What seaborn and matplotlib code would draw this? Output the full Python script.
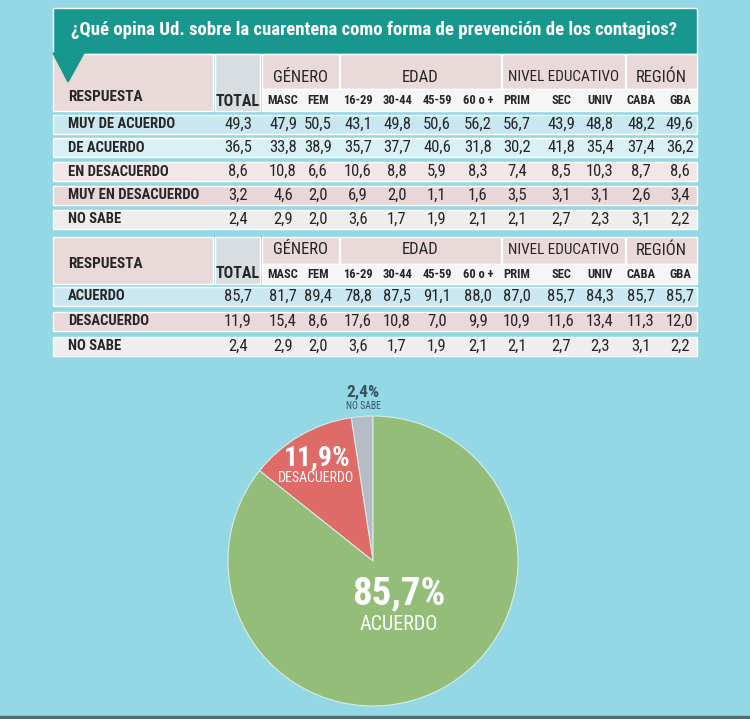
import numpy as np
import pandas as pd
import seaborn as sns
import matplotlib.pyplot as plt
from matplotlib import font_manager

# ------------------------------------------------------------
# Datos
# ------------------------------------------------------------
titulo = "¿Qué opina Ud. sobre la cuarentena como forma de prevención de los contagios?"

grupos = ["GÉNERO", "EDAD", "NIVEL EDUCATIVO", "REGIÓN"]
subcols = ["MASC", "FEM", "16-29", "30-44", "45-59", "60 o +",
           "PRIM", "SEC", "UNIV", "CABA", "GBA"]

resp1 = ["MUY DE ACUERDO", "DE ACUERDO", "EN DESACUERDO", "MUY EN DESACUERDO", "NO SABE"]
total1 = [49.3, 36.5, 8.6, 3.2, 2.4]
masc1 = [47.9, 33.8, 10.8, 4.6, 2.9]
fem1 = [50.5, 38.9, 6.6, 2.0, 2.0]
e1629_1 = [43.1, 35.7, 10.6, 6.9, 3.6]
e3044_1 = [49.8, 37.7, 8.8, 2.0, 1.7]
e4559_1 = [50.6, 40.6, 5.9, 1.1, 1.9]
e60_1 = [56.2, 31.8, 8.3, 1.6, 2.1]
prim1 = [56.7, 30.2, 7.4, 3.5, 2.1]
sec1 = [43.9, 41.8, 8.5, 3.1, 2.7]
univ1 = [48.8, 35.4, 10.3, 3.1, 2.3]
caba1 = [48.2, 37.4, 8.7, 2.6, 3.1]
gba1 = [49.6, 36.2, 8.6, 3.4, 2.2]

resp2 = ["ACUERDO", "DESACUERDO", "NO SABE"]
total2 = [85.7, 11.9, 2.4]
masc2 = [81.7, 15.4, 2.9]
fem2 = [89.4, 8.6, 2.0]
e1629_2 = [78.8, 17.6, 3.6]
e3044_2 = [87.5, 10.8, 1.7]
e4559_2 = [91.1, 7.0, 1.9]
e60_2 = [88.0, 9.9, 2.1]
prim2 = [87.0, 10.9, 2.1]
sec2 = [85.7, 11.6, 2.7]
univ2 = [84.3, 13.4, 2.3]
caba2 = [85.7, 11.3, 3.1]
gba2 = [85.7, 12.0, 2.2]

pie_labels = ["NO SABE", "DESACUERDO", "ACUERDO"]
pie_values = [2.4, 11.9, 85.7]

tabla1 = pd.DataFrame({"TOTAL": total1, "MASC": masc1, "FEM": fem1, "16-29": e1629_1,
                       "30-44": e3044_1, "45-59": e4559_1, "60 o +": e60_1, "PRIM": prim1,
                       "SEC": sec1, "UNIV": univ1, "CABA": caba1, "GBA": gba1}, index=resp1)
tabla2 = pd.DataFrame({"TOTAL": total2, "MASC": masc2, "FEM": fem2, "16-29": e1629_2,
                       "30-44": e3044_2, "45-59": e4559_2, "60 o +": e60_2, "PRIM": prim2,
                       "SEC": sec2, "UNIV": univ2, "CABA": caba2, "GBA": gba2}, index=resp2)

# ------------------------------------------------------------
# Estilo
# ------------------------------------------------------------
sns.set_theme(style="white")
disponibles = {f.name for f in font_manager.fontManager.ttflist}
fuente = next(f for f in ["Liberation Sans Narrow", "Roboto Condensed", "Liberation Sans", "DejaVu Sans"]
              if f in disponibles)
plt.rcParams["font.family"] = [fuente, "DejaVu Sans"]

FONDO = "#94d8e6"
BANNER = "#17978d"
ROSA = "#ead9d9"
GRIS_TOTAL = "#d7dde0"
BLANCO = "#f6f6f6"
TEXTO = "#262626"
colores1 = ["#c9e7f1", "#daf0f7", "#f3e6e6", "#e9d6d8", "#eeeeee"]
colores2 = ["#cbe8f2", "#ead8da", "#eeeeee"]
colores_pie = ["#b6bcc5", "#de6b67", "#93bd78"]

# layout (pixeles)
X0, X1 = 53, 697
X_RESP = 213
X_TOT = (215, 260)
grupo_lims = [(262, 339), (340, 501), (502, 625), (626, 697)]
x_tot = 238
x_cols = [283, 318, 358, 397, 437, 478, 517, 561, 600, 641, 680]


def fmt(v):
    return f"{v:.1f}".replace(".", ",")


fig = plt.figure(figsize=(7.5, 7.19), dpi=100)
fig.patch.set_facecolor(FONDO)
ax = fig.add_axes([0, 0, 1, 1])
ax.set_xlim(0, 750)
ax.set_ylim(719, 0)
ax.set_axis_off()

# banner
ax.barh(30.5, X1 - X0, left=X0, height=46, color=BANNER)
ax.fill([53, 84, 68], [53, 53, 82], color=BANNER, zorder=3)
ax.text(374, 30, titulo, color="white", fontsize=13.5, fontweight="bold",
        ha="center", va="center")


def dibujar_tabla(df, top, strip, bottom, row_y, row_h, colores, y_resp, y_tot, y_grp, y_sub):
    h = bottom - top
    ax.barh(top + h / 2, X_RESP - X0, left=X0, height=h, color=ROSA)
    ax.barh(top + h / 2, X_TOT[1] - X_TOT[0], left=X_TOT[0], height=h, color=GRIS_TOTAL)
    for g, (a, b) in zip(grupos, grupo_lims):
        ax.barh((top + strip) / 2, b - a, left=a, height=strip - top, color=ROSA)
        ax.text((a + b) / 2, y_grp, g, color=TEXTO, fontsize=12 if len(g) < 10 else 11,
                ha="center", va="center")
    ax.barh((strip + bottom) / 2, X1 - grupo_lims[0][0], left=grupo_lims[0][0],
            height=bottom - strip, color=BLANCO)
    ax.text(68, y_resp, "RESPUESTA", color=TEXTO, fontsize=11, fontweight="bold", va="center")
    ax.text(x_tot, y_tot, "TOTAL", color=TEXTO, fontsize=11.5, fontweight="bold",
            ha="center", va="center")
    for c, x in zip(subcols, x_cols):
        ax.text(x, y_sub, c, color=TEXTO, fontsize=9, fontweight="bold", ha="center", va="center")

    ax.barh(row_y, X1 - X0, left=X0, height=row_h, color=colores)
    for y, (resp, fila) in zip(row_y, df.iterrows()):
        ax.text(68, y, resp, color=TEXTO, fontsize=10.5, fontweight="bold", va="center")
        ax.text(x_tot, y, fmt(fila["TOTAL"]), color=TEXTO, fontsize=12, ha="center", va="center")
        for c, x in zip(subcols, x_cols):
            ax.text(x, y, fmt(fila[c]), color=TEXTO, fontsize=12, ha="center", va="center")


filas1 = 124 + 23.75 * np.arange(len(resp1))
dibujar_tabla(tabla1, 54, 89, 111, filas1, 19, colores1, 97, 102, 77, 101)
filas2 = 296 + 25 * np.arange(len(resp2))
dibujar_tabla(tabla2, 237, 264, 284, filas2, 19, colores2, 264, 273, 250, 274)

# franja inferior
ax.axhspan(716, 719, color="#4b6b73")

# ------------------------------------------------------------
# Torta
# ------------------------------------------------------------
cx, cy, r = 373, 561, 145
axp = fig.add_axes([(cx - r) / 750, (719 - cy - r) / 719, 2 * r / 750, 2 * r / 719])
axp.pie(pie_values, colors=colores_pie, startangle=90, counterclock=True,
        wedgeprops=dict(edgecolor="#d8ece4", linewidth=0.8))
axp.set_xlim(-1, 1)
axp.set_ylim(-1, 1)
axp.set_aspect("auto")
axp.set_axis_off()


def px(x, y):
    return (x - cx) / r, (cy - y) / r


axp.text(*px(399, 594), fmt(pie_values[2]) + "%", color="white", fontsize=28,
         fontweight="bold", ha="center", va="center", clip_on=False)
axp.text(*px(399, 625), pie_labels[2], color="white", fontsize=14.5, ha="center", va="center")
axp.text(*px(317, 458), fmt(pie_values[1]) + "%", color="white", fontsize=20,
         fontweight="bold", ha="center", va="center")
axp.text(*px(316, 478), pie_labels[1], color="white", fontsize=10, ha="center", va="center")
axp.text(*px(363, 392), fmt(pie_values[0]) + "%", color="#36535c", fontsize=12.5,
         fontweight="bold", ha="center", va="center", clip_on=False)
axp.text(*px(363, 406), pie_labels[0], color="#36535c", fontsize=7, ha="center",
         va="center", clip_on=False)

fig.savefig("out.png", dpi=100, facecolor=FONDO)
